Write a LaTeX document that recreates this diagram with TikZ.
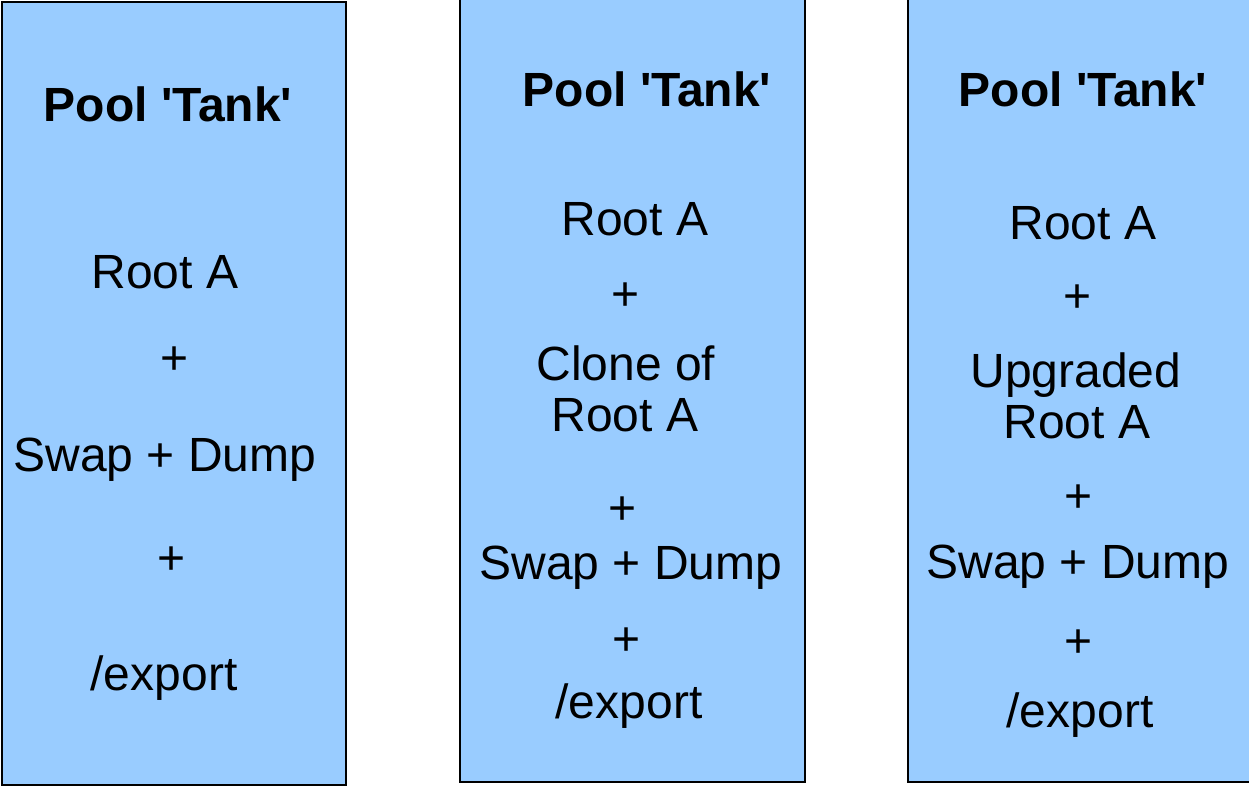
\documentclass[tikz,border=0pt]{standalone}
\usepackage{fontspec}
\setmainfont{Liberation Sans}
\definecolor{poolblue}{RGB}{153,204,255}
\tikzset{
  poolbox/.style={draw=black, line width=2pt, fill=poolblue},
  lbl/.style={anchor=base, inner sep=0pt, font=\fontsize{48}{51}\selectfont},
  ttl/.style={lbl, font=\fontsize{48}{51}\selectfont\bfseries},
}
\begin{document}
\begin{tikzpicture}[x=1pt,y=-1pt]
\useasboundingbox (0,0) rectangle (1249,786);
% boxes
\draw[poolbox] (2,2) rectangle (346,785);
\draw[poolbox] (460,-10) rectangle (805,782);
\draw[poolbox] (908,-10) rectangle (1260,782);
% box 1
\node[ttl] (a1) at (168,122) {Pool \textquotesingle Tank\textquotesingle};
\node[lbl] (a2) at (165,288) {Root A};
\node[lbl] (a3) at (175,374) {+};
\node[lbl] (a4) at (165,471) {Swap + Dump};
\node[lbl] (a5) at (172,574) {+};
\node[lbl] (a6) at (164,690) {/export};
% box 2
\node[ttl] (b1) at (647,107) {Pool \textquotesingle Tank\textquotesingle};
\node[lbl] (b2) at (635,236) {Root A};
\node[lbl] (b3) at (626,310) {+};
\node[lbl] (b4) at (626,380) {Clone of};
\node[lbl] (b5) at (625,431) {Root A};
\node[lbl] (b6) at (623,524) {+};
\node[lbl] (b7) at (631,579) {Swap + Dump};
\node[lbl] (b8) at (627,655) {+};
\node[lbl] (b9) at (629,718) {/export};
% box 3
\node[ttl] (c1) at (1083,107) {Pool \textquotesingle Tank\textquotesingle};
\node[lbl] (c2) at (1083,240) {Root A};
\node[lbl] (c3) at (1077,312) {+};
\node[lbl] (c4) at (1076,387) {Upgraded};
\node[lbl] (c5) at (1077,438) {Root A};
\node[lbl] (c6) at (1078,512) {+};
\node[lbl] (c7) at (1078,578) {Swap + Dump};
\node[lbl] (c8) at (1078,657) {+};
\node[lbl] (c9) at (1080,727) {/export};
\end{tikzpicture}
\end{document}
